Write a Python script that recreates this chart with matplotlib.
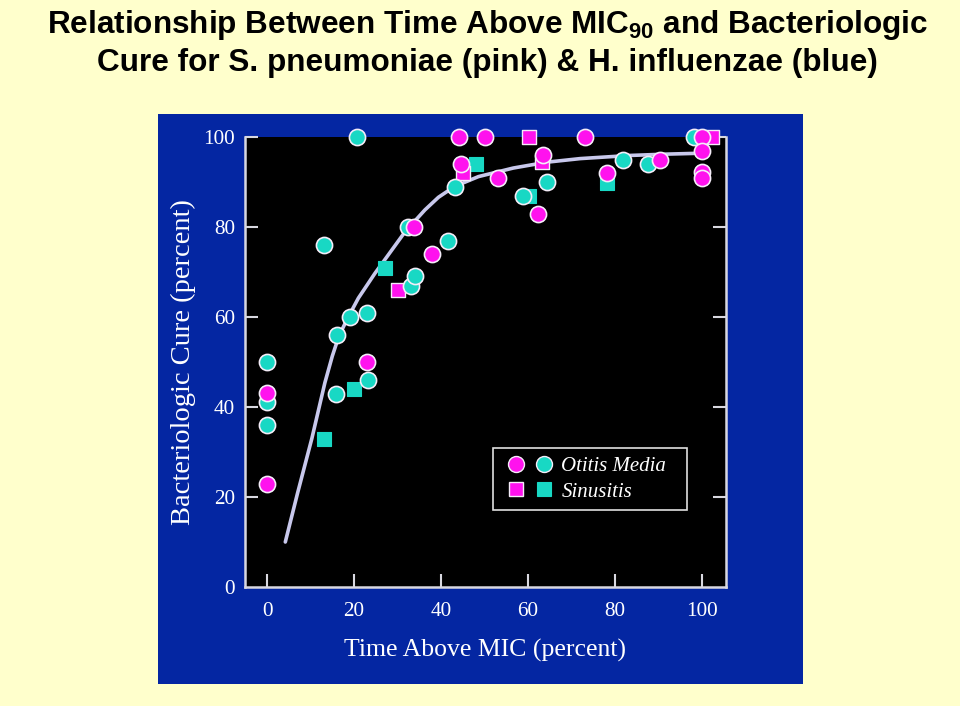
import matplotlib
matplotlib.use('Agg')
import matplotlib.pyplot as plt
from matplotlib.lines import Line2D
from matplotlib.legend_handler import HandlerTuple
from matplotlib.patches import Rectangle

# ---------------- data ----------------
# S. pneumoniae (pink) - Otitis Media (circles)
spn_om_x = [0, 0, 23, 33.8, 38, 44.5, 44.1, 50.1, 53.2, 62.4, 63.5, 73.2, 78.2, 90.3, 100, 100, 100, 100]
spn_om_y = [43.2, 23, 50, 80, 74.1, 94.1, 100, 100, 91, 83, 96.1, 100, 92.1, 95, 100, 96.9, 92.3, 91.0]
# S. pneumoniae (pink) - Sinusitis (squares)
spn_si_x = [30.1, 45.1, 60.2, 63.3, 102.2]
spn_si_y = [66, 91.9, 100, 94.5, 100]
# H. influenzae (blue) - Otitis Media (circles)
hin_om_x = [0, 0, 0, 13.1, 15.8, 16, 19, 20.6, 23, 23.3, 32.5, 33, 34.1, 41.5, 43.1, 58.9, 64.3, 81.8, 87.7, 98.2]
hin_om_y = [50, 41.2, 36, 76, 43, 56, 59.9, 100, 61, 46.1, 80.1, 67, 69.1, 77, 89, 87, 90.1, 95, 94, 100]
# H. influenzae (blue) - Sinusitis (squares)
hin_si_x = [13, 20.1, 27.1, 48, 60.3, 78.2]
hin_si_y = [33, 44, 71, 94, 87, 89.7]
# fitted curve
fit_x = [4.2, 7.0, 10.3, 13.3, 15.0, 16.5, 18.5, 21.0, 24.8, 28.7, 31.7, 36.3, 39.4, 43.1,
         48.6, 56.6, 64.3, 72.0, 83.4, 92.0, 100.0]
fit_y = [10, 20.8, 33.0, 45.4, 51.3, 55.7, 59.7, 64.2, 69.7, 74.9, 78.9, 83.8, 86.6, 89.0,
         91.2, 93.1, 94.4, 95.2, 95.9, 96.2, 96.4]

x_ticks = [0, 20, 40, 60, 80, 100]
y_ticks = [0, 20, 40, 60, 80, 100]

title_line1 = r'Relationship Between Time Above MIC$_{\mathregular{90}}$ and Bacteriologic'
title_line2 = 'Cure for S. pneumoniae (pink) & H. influenzae (blue)'
x_label = 'Time Above MIC (percent)'
y_label = 'Bacteriologic Cure (percent)'
legend_labels = ['Otitis Media', 'Sinusitis']

# ---------------- styling ----------------
PINK = '#FF12EE'
CYAN = '#18D8C4'
EDGE = '#F4ECF8'
NAVY = '#0426A2'
BG = '#FFFFCC'
SPINE = '#D8D8E0'
CURVE = '#C8C8EC'
serif = 'Liberation Serif'

fig = plt.figure(figsize=(9.6, 7.06), dpi=100, facecolor=BG)

# navy panel
fig.patches.append(Rectangle((158 / 960, 22 / 706), 645 / 960, 570 / 706,
                             transform=fig.transFigure, facecolor=NAVY,
                             edgecolor='none', zorder=-10))

ax = fig.add_axes([245.3 / 960, 119 / 706, 480.4 / 960, 450 / 706])
ax.set_zorder(2)
ax.set_facecolor('black')
ax.set_xlim(-5, 105.45)
ax.set_ylim(0, 100)

ax.plot(fit_x, fit_y, color=CURVE, lw=2.6, zorder=2,
        solid_capstyle='round', solid_joinstyle='round')

s_c = 135
s_s = 95
ax.scatter(hin_si_x, hin_si_y, marker='s', s=s_s, color=CYAN, edgecolors=CYAN, lw=0.8, zorder=3, clip_on=False)
ax.scatter(spn_si_x, spn_si_y, marker='s', s=s_s, color=PINK, edgecolors=EDGE, lw=1.0, zorder=3, clip_on=False)
ax.scatter(hin_om_x, hin_om_y, marker='o', s=s_c, color=CYAN, edgecolors=EDGE, lw=1.2, zorder=4, clip_on=False)
ax.scatter(spn_om_x, spn_om_y, marker='o', s=s_c, color=PINK, edgecolors=EDGE, lw=1.2, zorder=5, clip_on=False)

for sp in ['left', 'bottom', 'right']:
    ax.spines[sp].set_color(SPINE)
    ax.spines[sp].set_linewidth(1.8)
ax.spines['top'].set_visible(False)

ax.set_xticks(x_ticks)
ax.set_yticks(y_ticks)
ax.tick_params(axis='both', direction='in', length=9.5, width=1.5, color=SPINE,
               labelcolor='white', labelsize=15.2)
ax.tick_params(axis='y', right=True, pad=7.5)
ax.tick_params(axis='x', pad=10.5)
for lab in ax.get_xticklabels() + ax.get_yticklabels():
    lab.set_fontfamily(serif)
ax.yaxis.get_major_ticks()[0].tick1line.set_visible(False)
ax.yaxis.get_major_ticks()[0].tick2line.set_visible(False)

ax.set_xlabel(x_label, family=serif, fontsize=18.5, color='white', labelpad=13.5)
ax.set_ylabel(y_label, family=serif, fontsize=20.5, color='white', labelpad=5)

# legend
h_pc = Line2D([], [], marker='o', ls='none', ms=11.5, mfc=PINK, mec=EDGE, mew=1.0)
h_cc = Line2D([], [], marker='o', ls='none', ms=11.5, mfc=CYAN, mec=EDGE, mew=1.0)
h_ps = Line2D([], [], marker='s', ls='none', ms=9.5, mfc=PINK, mec=EDGE, mew=1.0)
h_cs = Line2D([], [], marker='s', ls='none', ms=9.5, mfc=CYAN, mec=CYAN, mew=0.8)
leg = ax.legend([(h_pc, h_cc), (h_ps, h_cs)], legend_labels,
                handler_map={tuple: HandlerTuple(ndivide=None, pad=0)},
                loc='upper left', bbox_to_anchor=(52, 17.1, 44.5, 13.9),
                bbox_transform=ax.transData, mode='expand', borderaxespad=0,
                prop={'family': serif, 'style': 'italic', 'size': 15},
                handlelength=2.7, handletextpad=0.15, borderpad=0.42,
                labelspacing=0.3, fancybox=False, framealpha=1,
                facecolor='black', edgecolor='#E0E0E0')
leg.get_frame().set_linewidth(1.2)
for t in leg.get_texts():
    t.set_color('white')

# title
fig.text(0.508, 1 - 33 / 706, title_line1, ha='center', va='baseline',
         family='Liberation Sans', weight='bold', fontsize=22.7, color='black')
fig.text(0.508, 1 - 71 / 706, title_line2, ha='center', va='baseline',
         family='Liberation Sans', weight='bold', fontsize=22.7, color='black')

fig.savefig('out.png', dpi=100, facecolor=BG)
